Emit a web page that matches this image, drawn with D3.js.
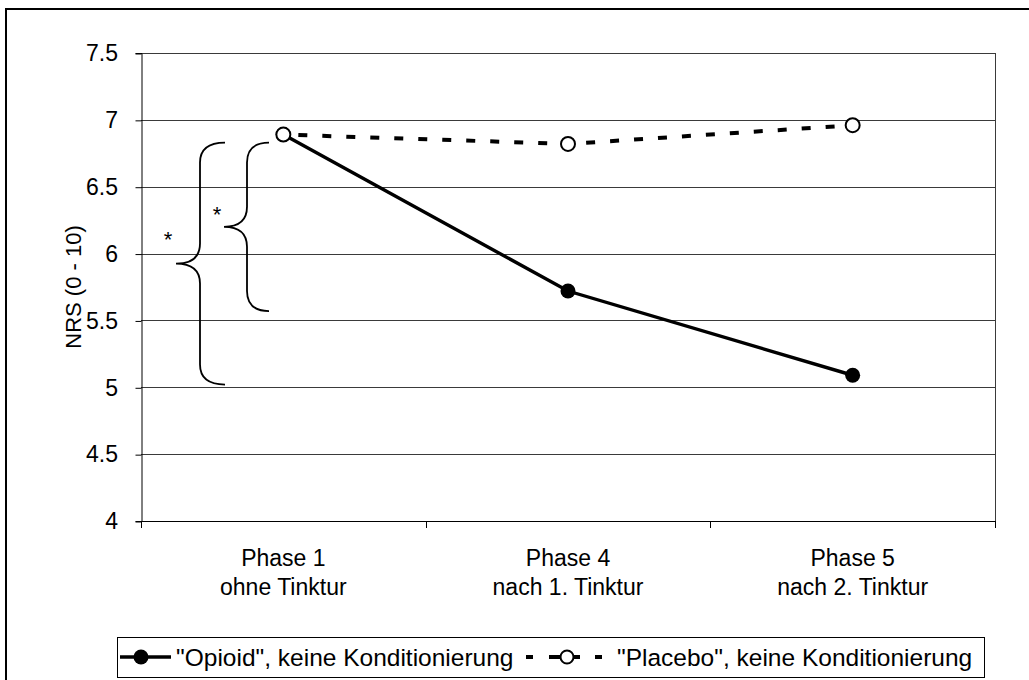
<!DOCTYPE html>
<html>
<head>
<meta charset="utf-8">
<script src="https://cdn.jsdelivr.net/npm/d3@7"></script>
<style>
  html, body { margin: 0; padding: 0; background: #fff; }
  svg { display: block; font-family: "Liberation Sans", Arial, sans-serif; }
</style>
</head>
<body>
<svg id="chart" width="1029" height="680"></svg>
<script>
// Phases on the x axis (two-line labels)
const phases = ["Phase 1", "Phase 4", "Phase 5"];
const phaseSub = ["ohne Tinktur", "nach 1. Tinktur", "nach 2. Tinktur"];

// Mean pain ratings, NRS (0 - 10)
const opioid = [6.89, 5.72, 5.09];
const placebo = [6.89, 6.82, 6.96];

const seriesNames = ["\"Opioid\", keine Konditionierung", "\"Placebo\", keine Konditionierung"];

// y axis ticks
const yTicks = [4, 4.5, 5, 5.5, 6, 6.5, 7, 7.5];
const yTitle = "NRS (0 - 10)";

// significance braces: value range spanned, marker text
const braces = [
  { top: 6.83, bottom: 5.02, label: "*" },
  { top: 6.83, bottom: 5.57, label: "*" }
];

const svg = d3.select("#chart");

const plot = { left: 141, right: 995, top: 53, bottom: 521 };

const x = d3.scaleBand().domain(phases).range([plot.left, plot.right]).padding(0);
const y = d3.scaleLinear().domain([4, 7.5]).range([plot.bottom, plot.top]);
const cx = p => x(p) + x.bandwidth() / 2;

function addText(parent, tx, ty, str, opts = {}) {
  const g = parent.append("g")
    .attr("transform", `translate(${tx},${ty})${opts.rotate ? ` rotate(${opts.rotate})` : ""}`);
  return g.append("text")
    .attr("font-size", opts.size || 23)
    .attr("text-anchor", opts.anchor || "start")
    .attr("dy", opts.dy || 0)
    .attr("fill", "#000")
    .text(str);
}

// chart frame
svg.append("rect").attr("x", 6).attr("y", 9).attr("width", 1060).attr("height", 700)
  .attr("fill", "#fff").attr("stroke", "#000").attr("stroke-width", 2);

// horizontal grid lines
svg.append("g").selectAll("line").data(yTicks.filter(d => d > 4)).join("line")
  .attr("x1", plot.left).attr("x2", plot.right)
  .attr("y1", d => Math.round(y(d)) + 0.5).attr("y2", d => Math.round(y(d)) + 0.5)
  .attr("stroke", "#3a3a3a").attr("stroke-width", 1);

// right border of plot
svg.append("line").attr("x1", plot.right + 0.5).attr("x2", plot.right + 0.5)
  .attr("y1", plot.top).attr("y2", plot.bottom)
  .attr("stroke", "#3a3a3a");

// y axis
const yAxis = d3.axisLeft(y).tickValues(yTicks).tickSize(6).tickFormat("");
const yg = svg.append("g").attr("transform", `translate(${plot.left + 0.5},0)`).call(yAxis);
yg.selectAll("line").attr("stroke", "#000").attr("transform", "translate(0,0.5)");
yg.select(".domain").attr("stroke", "#000");
yTicks.forEach(t => {
  addText(svg, plot.left - 23, y(t), d3.format("")(t), { anchor: "end", dy: "0.36em" });
});

// x axis with ticks at the band edges
const xEdges = phases.map(p => x(p)).concat([plot.right]);
svg.append("line").attr("x1", plot.left).attr("x2", plot.right)
  .attr("y1", plot.bottom + 0.5).attr("y2", plot.bottom + 0.5).attr("stroke", "#000");
svg.append("g").selectAll("line").data(xEdges).join("line")
  .attr("x1", d => Math.round(d) + 0.5).attr("x2", d => Math.round(d) + 0.5)
  .attr("y1", plot.bottom).attr("y2", plot.bottom + 7).attr("stroke", "#000");
phases.forEach((p, i) => {
  addText(svg, cx(p), 566, p, { anchor: "middle" });
  addText(svg, cx(p), 595, phaseSub[i], { anchor: "middle" });
});

// y title
addText(svg, 81, (plot.top + plot.bottom) / 2, yTitle, { anchor: "middle", rotate: -90, size: 22 });

// braces
const braceGeo = [
  { tip: 176, stem: 200, end: 225, starX: 168, starOff: -16.5 },
  { tip: 224, stem: 247, end: 269, starX: 217, starOff: -4.5 }
];
braces.forEach((b, i) => {
  const gq = braceGeo[i];
  const y0 = y(b.top), y1 = y(b.bottom), ym = (y0 + y1) / 2, r = 20;
  const p = d3.path();
  p.moveTo(gq.end, y0);
  p.quadraticCurveTo(gq.stem, y0, gq.stem, y0 + r);
  p.lineTo(gq.stem, ym - r);
  p.quadraticCurveTo(gq.stem, ym, gq.tip, ym);
  p.quadraticCurveTo(gq.stem, ym, gq.stem, ym + r);
  p.lineTo(gq.stem, y1 - r);
  p.quadraticCurveTo(gq.stem, y1, gq.end, y1);
  svg.append("path").attr("d", p.toString()).attr("fill", "none")
    .attr("stroke", "#000").attr("stroke-width", 1.8);
  addText(svg, gq.starX, ym + gq.starOff, b.label, { anchor: "middle", size: 22 });
});

// series lines
const line = d3.line().x((d, i) => cx(phases[i])).y(d => y(d));
svg.append("path").datum(opioid).attr("d", line)
  .attr("fill", "none").attr("stroke", "#000").attr("stroke-width", 3.4);
svg.append("path").datum(placebo).attr("d", line)
  .attr("fill", "none").attr("stroke", "#000").attr("stroke-width", 4)
  .attr("stroke-dasharray", "9,15").attr("stroke-dashoffset", -15);

// markers
svg.append("g").selectAll("circle").data(opioid).join("circle")
  .attr("cx", (d, i) => cx(phases[i])).attr("cy", d => y(d)).attr("r", 7.5)
  .attr("fill", "#000");
svg.append("g").selectAll("circle").data(placebo).join("circle")
  .attr("cx", (d, i) => cx(phases[i])).attr("cy", d => y(d)).attr("r", 7)
  .attr("fill", "#fff").attr("stroke", "#000").attr("stroke-width", 2);

// legend
const lg = svg.append("g");
lg.append("rect").attr("x", 117.5).attr("y", 637.5).attr("width", 867).attr("height", 40)
  .attr("fill", "#fff").attr("stroke", "#000").attr("stroke-width", 1);
const ly = 657;
lg.append("line").attr("x1", 120).attr("x2", 171).attr("y1", ly).attr("y2", ly)
  .attr("stroke", "#000").attr("stroke-width", 3.4);
lg.append("circle").attr("cx", 141).attr("cy", ly).attr("r", 7.5).attr("fill", "#000");
addText(lg, 176, ly, seriesNames[0], { dy: "0.36em", size: 24.5 });

lg.append("line").attr("x1", 526).attr("x2", 608).attr("y1", ly).attr("y2", ly)
  .attr("stroke", "#000").attr("stroke-width", 4).attr("stroke-dasharray", "7,16");
lg.append("line").attr("x1", 556).attr("x2", 580).attr("y1", ly).attr("y2", ly)
  .attr("stroke", "#000").attr("stroke-width", 4).attr("stroke-dasharray", "5,14");
lg.append("circle").attr("cx", 567).attr("cy", ly).attr("r", 6.5)
  .attr("fill", "#fff").attr("stroke", "#000").attr("stroke-width", 2);
addText(lg, 617, ly, seriesNames[1], { dy: "0.36em", size: 24.5 });
</script>
</body>
</html>
